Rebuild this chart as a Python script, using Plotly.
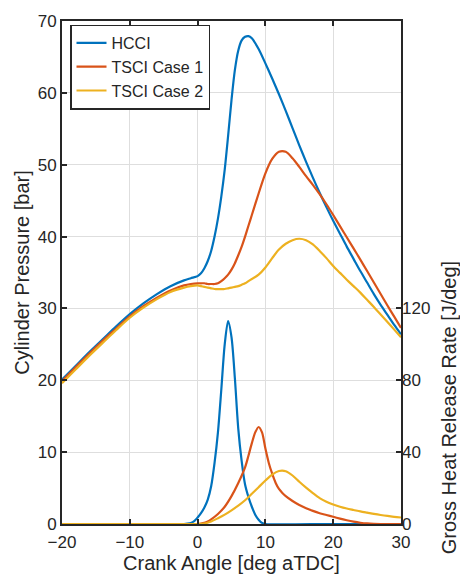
import plotly.graph_objects as go

# ---------------- data ----------------
crank_p = [-20, -18, -16, -14, -12, -10, -8, -6, -4, -2, -1, 0, 0.5, 1, 1.5, 2, 2.5, 3, 3.5, 4,
           4.5, 5, 5.5, 6, 6.5, 7, 7.5, 8, 9, 10, 11, 12, 13, 14, 15, 16, 17, 18, 19, 20, 21,
           22, 23, 24, 25, 26, 27, 28, 29, 30]
p_hcci = [20.1, 22.0, 23.9, 25.7, 27.5, 29.2, 30.7, 32.0, 33.1, 33.9, 34.2, 34.5, 34.9, 35.6,
          36.6, 38.0, 40.0, 42.5, 45.6, 49.3, 54.0, 59.0, 63.2, 65.9, 67.3, 67.8, 67.9, 67.6,
          66.1, 64.1, 62.0, 59.8, 57.5, 55.1, 52.7, 50.4, 48.2, 46.1, 44.1, 42.2, 40.4, 38.6,
          36.9, 35.2, 33.6, 32.0, 30.5, 29.1, 27.7, 26.4]
p_tsci1 = [19.9, 21.8, 23.7, 25.5, 27.2, 28.9, 30.3, 31.5, 32.5, 33.2, 33.4, 33.5, 33.5, 33.5,
           33.4, 33.4, 33.4, 33.5, 33.8, 34.2, 34.7, 35.4, 36.3, 37.4, 38.6, 40.0, 41.5, 43.0,
           46.0, 48.8, 50.8, 51.8, 51.8, 50.9, 49.7, 48.4, 47.2, 45.9, 44.5, 43.0, 41.45, 39.9,
           38.35, 36.8, 35.2, 33.6, 32.0, 30.4, 28.85, 27.3]
p_tsci2 = [19.6, 21.5, 23.4, 25.2, 27.0, 28.7, 30.1, 31.3, 32.3, 32.9, 33.1, 33.2, 33.1, 33.0,
           32.9, 32.8, 32.7, 32.7, 32.7, 32.7, 32.8, 32.9, 33.0, 33.1, 33.3, 33.5, 33.8, 34.1,
           34.7, 35.7, 37.0, 38.2, 39.0, 39.5, 39.7, 39.5, 38.9, 38.0, 37.0, 35.9, 34.95, 34.0,
           33.1, 32.2, 31.2, 30.2, 29.15, 28.1, 27.05, 26.0]

crank_h1 = [-20, -10, -2, -1.5, -1, -0.5, 0, 0.5, 1, 1.5, 2, 2.5, 3, 3.5, 4, 4.5, 5, 5.5, 6,
            6.5, 7, 7.5, 8, 8.5, 9, 9.5, 10, 20, 30]
hrr_hcci = [0, 0, 0, 0.2, 0.6, 1.6, 3.6, 6, 9.2, 13.6, 21, 34, 51, 75, 100, 113, 104, 81, 53,
            35, 22, 15, 9.6, 5.2, 2.4, 0.6, 0, 0, 0]

crank_h2 = [-20, -10, 0, 0.5, 1, 1.5, 2, 3, 4, 5, 6, 7, 7.5, 8, 8.5, 9, 9.5, 10, 10.5, 11,
            11.5, 12, 12.5, 13, 14, 15, 16, 17, 18, 19, 20, 21, 22, 23, 24, 25, 26, 27, 30]
hrr_tsci1 = [0, 0, 0, 0.2, 0.6, 1.4, 2.6, 5.6, 9.6, 15.5, 22.8, 31.5, 38, 45, 51, 54, 51,
             42, 34, 28, 23, 19.5, 17.3, 15.5, 12.8, 10.6, 8.8, 7.3, 6.0, 5.0, 4.0, 3.0, 2.1,
             1.3, 0.7, 0.3, 0.1, 0, 0]

crank_h3 = [-20, -10, 0, 1, 2, 3, 4, 5, 6, 7, 8, 9, 10, 11, 12, 13, 14, 15, 16, 17, 18, 19,
            20, 21, 22, 23, 24, 25, 26, 27, 28, 29, 30]
hrr_tsci2 = [0, 0, 0, 0.3, 1.4, 3.2, 5.2, 7.6, 10.2, 13.2, 16.8, 20.5, 24.2, 27.5, 29.5, 29.4,
             27, 23.5, 20.2, 17.2, 14.4, 12.4, 10.9, 9.6, 8.6, 7.8, 7.0, 6.3, 5.6, 5.0, 4.5,
             4.0, 3.6]

names = ["HCCI", "TSCI Case 1", "TSCI Case 2"]
colors = ["#0072BD", "#D95319", "#EDB120"]

x_ticks = [-20, -10, 0, 10, 20, 30]
y_ticks = [0, 10, 20, 30, 40, 50, 60, 70]
y2_ticks = [0, 40, 80, 120]

FONT = "Liberation Sans, Arial, Helvetica, sans-serif"
INK = "#262626"

fig = go.Figure()

for xs, ys, c in [(crank_h1, hrr_hcci, colors[0]), (crank_h2, hrr_tsci1, colors[1]),
                  (crank_h3, hrr_tsci2, colors[2])]:
    fig.add_trace(go.Scatter(x=xs, y=ys, mode="lines", yaxis="y2", showlegend=False,
                             line=dict(color=c, width=2.2, shape="spline", smoothing=0.8),
                             hoverinfo="skip"))

for ys, n, c in [(p_hcci, names[0], colors[0]), (p_tsci1, names[1], colors[1]),
                 (p_tsci2, names[2], colors[2])]:
    fig.add_trace(go.Scatter(x=crank_p, y=ys, mode="lines", name=n,
                             line=dict(color=c, width=2.2, shape="spline", smoothing=0.8)))

fig.update_layout(
    width=460, height=580,
    margin=dict(l=62, r=59, t=15, b=56),
    paper_bgcolor="white", plot_bgcolor="white",
    font=dict(family=FONT, size=17, color=INK),
    xaxis=dict(range=[-20, 30], tickvals=x_ticks, ticks="inside", ticklen=5, tickwidth=1.5,
               tickcolor=INK, showline=True, linecolor=INK, linewidth=2,
               mirror="ticks", showgrid=True, gridcolor="#dedede", gridwidth=1,
               zeroline=False, ticklabelstandoff=2,
               title=dict(text="Crank Angle [deg aTDC]", font=dict(size=20), standoff=1),
               tickfont=dict(size=17)),
    yaxis=dict(range=[0, 70], tickvals=y_ticks, ticks="inside", ticklen=5, tickwidth=1.5,
               tickcolor=INK, showline=True, linecolor=INK, linewidth=2,
               mirror=True, showgrid=True, gridcolor="#dedede", gridwidth=1, zeroline=False,
               title=dict(text="Cylinder Pressure [bar]", font=dict(size=20), standoff=3),
               tickfont=dict(size=17)),
    yaxis2=dict(range=[0, 280], tickvals=y2_ticks, ticks="inside", ticklen=5, tickwidth=1.5,
                tickcolor=INK, overlaying="y", side="right", showline=False,
                showgrid=False, zeroline=False, tickfont=dict(size=17)),
    legend=dict(x=0.0236, y=0.993, xanchor="left", yanchor="top", bgcolor="white",
                bordercolor=INK, borderwidth=1.5, font=dict(size=16),
                tracegroupgap=0, itemwidth=30),
    annotations=[dict(text="Gross Heat Release Rate [J/deg]", textangle=-90, xref="paper",
                      yref="paper", x=1.1416, y=0.23, xanchor="center", yanchor="middle",
                      showarrow=False, font=dict(size=20))],
)

fig.write_html("out.html", config={"displayModeBar": False},
               post_script="document.body.style.margin='0';document.body.style.padding='0';")
